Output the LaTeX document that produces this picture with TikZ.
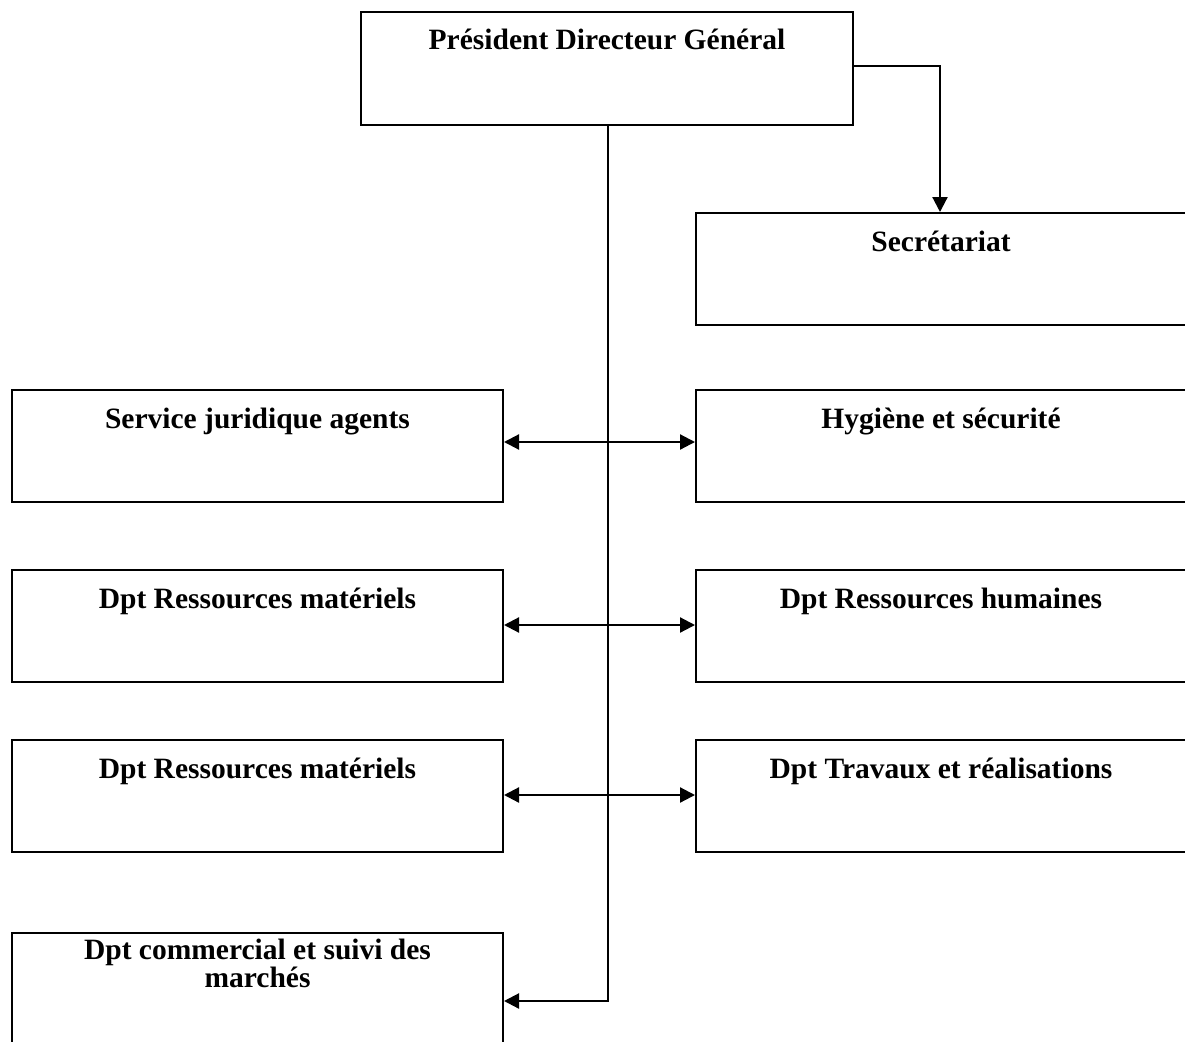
\documentclass[tikz,border=0pt]{standalone}
\usepackage{fontspec}
\setmainfont{Liberation Serif}
\usetikzlibrary{arrows.meta}
\begin{document}
\begin{tikzpicture}[x=1pt,y=-1pt,
  box/.style={draw=black, line width=2pt, rectangle, inner sep=0pt, minimum width=491pt, minimum height=112pt},
  lbl/.style={font=\fontsize{29.5}{25}\selectfont\bfseries, inner sep=0pt, anchor=base, align=center},
  tip/.style={Triangle[length=15pt,width=15pt]},
  link/.style={line width=2.2pt, -{Triangle[length=15pt,width=15pt]}},
  dlink/.style={line width=2.2pt, {Triangle[length=15pt,width=15pt]}-{Triangle[length=15pt,width=15pt]}}]
\useasboundingbox (0,0) rectangle (1185,1041);
\clip (0,0) rectangle (1185,1041);
% boxes
\node[box, minimum width=492pt, minimum height=113pt] (pdg) at (607,68.5) {};
\node[box, minimum width=490pt] (sec) at (941,269) {};
\node[box] (l1) at (257.5,446) {};
\node[box, minimum width=490pt] (r1) at (941,446) {};
\node[box] (l2) at (257.5,626) {};
\node[box, minimum width=490pt] (r2) at (941,626) {};
\node[box] (l3) at (257.5,796) {};
\node[box, minimum width=490pt] (r3) at (941,796) {};
\node[box] (l4) at (257.5,989) {};
% labels
\node[lbl] (tpdg) at ([yshift=-38pt]pdg.north) {Président Directeur Général};
\node[lbl] (tsec) at ([yshift=-39pt]sec.north) {Secrétariat};
\node[lbl] (tl1) at ([yshift=-39pt]l1.north) {Service juridique agents};
\node[lbl] (tr1) at ([yshift=-39pt]r1.north) {Hygiène et sécurité};
\node[lbl] (tl2) at ([yshift=-39pt]l2.north) {Dpt Ressources matériels};
\node[lbl] (tr2) at ([yshift=-39pt]r2.north) {Dpt Ressources humaines};
\node[lbl] (tl3) at ([yshift=-39pt]l3.north) {Dpt Ressources matériels};
\node[lbl] (tr3) at ([yshift=-39pt]r3.north) {Dpt Travaux et réalisations};
\node[lbl] (tl4) at ([yshift=-55pt]l4.north) {Dpt commercial et suivi des\\marchés};
% connectors
\coordinate (c4) at ([yshift=-12pt]l4.east);
\draw[link] ([xshift=1pt]pdg.south) |- (c4);
\draw[link] ([yshift=2.5pt]pdg.east) -| ([xshift=-1pt]sec.north);
\draw[dlink] ([yshift=4pt]l1.east) -- ([yshift=4pt]r1.west);
\draw[dlink] ([yshift=1pt]l2.east) -- ([yshift=1pt]r2.west);
\draw[dlink] ([yshift=1pt]l3.east) -- ([yshift=1pt]r3.west);
\end{tikzpicture}
\end{document}
